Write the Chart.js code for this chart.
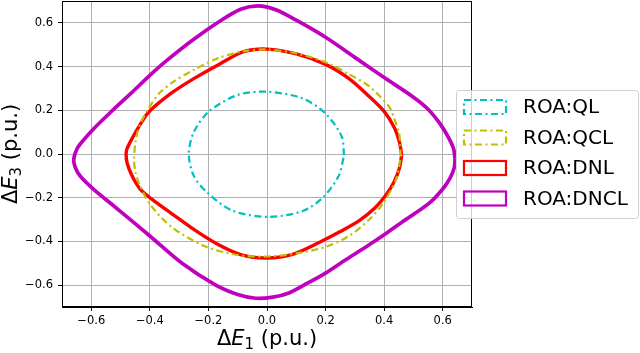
<!DOCTYPE html>
<html>
<head>
<meta charset="utf-8">
<script src="https://cdn.jsdelivr.net/npm/chart.js"></script>
<style>
  html, body { margin: 0; padding: 0; background: #fff; }
  #wrap { width: 640px; height: 353px; }
</style>
</head>
<body>
<div id="wrap"><canvas id="roaChart" width="640" height="353"></canvas></div>
<script>
// series names
const seriesNames = ['ROA:QL', 'ROA:QCL', 'ROA:DNL', 'ROA:DNCL'];

// ROA:QL boundary
const qlX = [0.263, 0.255, 0.2, 0.12, 0.0, -0.1, -0.198, -0.25, -0.267, -0.25, -0.205, -0.12, 0.0, 0.12, 0.19, 0.245, 0.263];
const qlY = [-0.005, 0.08, 0.185, 0.255, 0.285, 0.27, 0.195, 0.1, 0.0, -0.1, -0.175, -0.258, -0.288, -0.262, -0.2, -0.1, -0.005];

// ROA:QCL boundary
const qclX = [0.457, 0.455, 0.451, 0.435, 0.417, 0.349, 0.28, 0.2, 0.1, 0.0, -0.08, -0.164, -0.25, -0.32, -0.37, -0.408, -0.435, -0.448, -0.454, -0.448, -0.437, -0.402, -0.328, -0.21, -0.1, 0.0, 0.1, 0.2, 0.28, 0.349, 0.394, 0.44, 0.457];
const qclY = [-0.012, 0.04, 0.095, 0.16, 0.216, 0.31, 0.365, 0.42, 0.46, 0.478, 0.47, 0.44, 0.385, 0.33, 0.275, 0.2, 0.13, 0.064, -0.027, -0.09, -0.134, -0.225, -0.332, -0.423, -0.462, -0.469, -0.455, -0.425, -0.375, -0.3, -0.23, -0.119, -0.012];

// ROA:DNL boundary
const dnlX = [0.46, 0.453, 0.435, 0.4, 0.35, 0.28, 0.2, 0.1, 0.0, -0.08, -0.164, -0.25, -0.328, -0.405, -0.44, -0.465, -0.48, -0.48, -0.472, -0.455, -0.431, -0.38, -0.328, -0.25, -0.175, -0.09, 0.0, 0.09, 0.178, 0.25, 0.315, 0.37, 0.407, 0.435, 0.452, 0.46];
const dnlY = [-0.005, 0.05, 0.12, 0.195, 0.262, 0.345, 0.41, 0.458, 0.48, 0.468, 0.41, 0.345, 0.277, 0.19, 0.12, 0.06, 0.015, -0.025, -0.065, -0.115, -0.164, -0.22, -0.27, -0.345, -0.408, -0.46, -0.476, -0.458, -0.405, -0.355, -0.305, -0.245, -0.187, -0.125, -0.065, -0.005];

// ROA:DNCL boundary
const dncX = [0.642, 0.637, 0.62, 0.59, 0.55, 0.5, 0.4, 0.3, 0.2, 0.1, 0.03, -0.03, -0.09, -0.164, -0.25, -0.345, -0.4, -0.465, -0.53, -0.59, -0.625, -0.648, -0.66, -0.652, -0.636, -0.59, -0.53, -0.476, -0.4, -0.29, -0.175, -0.1, -0.039, 0.02, 0.075, 0.14, 0.2, 0.27, 0.349, 0.41, 0.463, 0.554, 0.6, 0.625, 0.64, 0.642];
const dncY = [-0.02, 0.025, 0.075, 0.14, 0.205, 0.26, 0.35, 0.442, 0.534, 0.612, 0.66, 0.678, 0.662, 0.605, 0.525, 0.425, 0.36, 0.277, 0.196, 0.118, 0.066, 0.025, -0.027, -0.07, -0.104, -0.164, -0.23, -0.29, -0.375, -0.5, -0.6, -0.643, -0.66, -0.655, -0.636, -0.59, -0.545, -0.483, -0.415, -0.36, -0.31, -0.225, -0.16, -0.11, -0.06, -0.02];

// tick labels
const xTickVals = [-0.6, -0.4, -0.2, 0.0, 0.2, 0.4, 0.6];
const xTickLabels = ['\u22120.6', '\u22120.4', '\u22120.2', '0.0', '0.2', '0.4', '0.6'];
const yTickVals = [-0.6, -0.4, -0.2, 0.0, 0.2, 0.4, 0.6];
const yTickLabels = ['\u22120.6', '\u22120.4', '\u22120.2', '0.0', '0.2', '0.4', '0.6'];

const FONT = "'DejaVu Sans', sans-serif";

function pts(xs, ys) {
  return xs.map((x, i) => ({ x: x, y: ys[i] }));
}

function tickLabel(vals, labels) {
  return function (value) {
    const i = vals.findIndex(v => Math.abs(v - value) < 1e-6);
    return i >= 0 ? labels[i] : '';
  };
}

// draws "ΔE_n (p.u.)" with italic E and a subscript
function drawAxisTitle(ctx, sub, cx, cy, rotate) {
  const parts = [
    { t: '\u0394', f: '21px ' + FONT, dy: 0 },
    { t: 'E', f: 'oblique 21px ' + FONT, dy: 0 },
    { t: sub, f: '15px ' + FONT, dy: 4 },
    { t: ' (p.u.)', f: '21px ' + FONT, dy: 0 }
  ];
  let total = 0;
  parts.forEach(p => { ctx.font = p.f; p.w = ctx.measureText(p.t).width; total += p.w; });
  ctx.save();
  ctx.translate(cx, cy);
  if (rotate) ctx.rotate(-Math.PI / 2);
  ctx.fillStyle = '#000';
  ctx.textBaseline = 'alphabetic';
  ctx.textAlign = 'left';
  let x = -total / 2;
  parts.forEach(p => {
    ctx.font = p.f;
    ctx.fillText(p.t, x, p.dy);
    x += p.w;
  });
  ctx.restore();
}

const extras = {
  id: 'extras',
  afterDraw(chart) {
    const ctx = chart.ctx;
    const a = chart.chartArea;
    // frame
    ctx.save();
    ctx.strokeStyle = '#000';
    ctx.lineWidth = 1;
    ctx.strokeRect(a.left + 0.5, a.top + 0.5, a.right - a.left - 1, a.bottom - a.top - 1);
    ctx.restore();

    drawAxisTitle(ctx, '1', (a.left + a.right) / 2, 345, false);
    drawAxisTitle(ctx, '3', 17, (a.top + a.bottom) / 2, true);

    // legend box
    const bx = 456, by = 90, bw = 182, bh = 128;
    ctx.save();
    ctx.beginPath();
    ctx.roundRect(bx + 0.5, by + 0.5, bw, bh, 3);
    ctx.fillStyle = 'rgba(255,255,255,0.8)';
    ctx.fill();
    ctx.strokeStyle = '#d0d0d0';
    ctx.lineWidth = 1;
    ctx.stroke();
    chart.data.datasets.forEach((ds, i) => {
      const cy = 107 + i * 30.5;
      ctx.strokeStyle = ds.borderColor;
      ctx.lineWidth = 2.2;
      ctx.setLineDash(ds.borderDash || []);
      ctx.strokeRect(464, cy - 7, 42, 14);
      ctx.setLineDash([]);
      ctx.fillStyle = '#000';
      ctx.font = '20px ' + FONT;
      ctx.textBaseline = 'middle';
      ctx.fillText(ds.label, 523, cy + 1);
    });
    ctx.restore();
  }
};

const dashDot = [7, 3.5, 2, 3.5];

new Chart(document.getElementById('roaChart'), {
  type: 'scatter',
  data: {
    datasets: [
      { label: seriesNames[0], data: pts(qlX, qlY), borderColor: '#00bfbf', borderWidth: 2.2, borderDash: dashDot },
      { label: seriesNames[1], data: pts(qclX, qclY), borderColor: '#bfbf00', borderWidth: 2.2, borderDash: dashDot },
      { label: seriesNames[2], data: pts(dnlX, dnlY), borderColor: '#ff0000', borderWidth: 3.4 },
      { label: seriesNames[3], data: pts(dncX, dncY), borderColor: '#bf00bf', borderWidth: 3.7 }
    ].map(d => Object.assign(d, { showLine: true, pointRadius: 0, fill: false, tension: 0.3 }))
  },
  options: {
    responsive: false,
    animation: false,
    layout: { padding: { left: 0, right: 168, top: 1, bottom: 0 } },
    plugins: { legend: { display: false }, tooltip: { enabled: false } },
    scales: {
      x: {
        type: 'linear', min: -0.7, max: 0.7,
        afterBuildTicks: s => { s.ticks = xTickVals.map(v => ({ value: v })); },
        afterFit: s => { s.height = 46; s.paddingLeft = 0; s.paddingRight = 0; },
        grid: { color: '#b0b0b0', lineWidth: 1, tickLength: 4, tickColor: '#000' },
        border: { color: '#000', width: 1 },
        ticks: { callback: tickLabel(xTickVals, xTickLabels), color: '#000', font: { family: FONT, size: 11.5 }, padding: 3, maxRotation: 0 }
      },
      y: {
        type: 'linear', min: -0.7, max: 0.7,
        afterBuildTicks: s => { s.ticks = yTickVals.map(v => ({ value: v })); },
        afterFit: s => { s.width = 62; s.paddingTop = 0; s.paddingBottom = 0; },
        grid: { color: '#b0b0b0', lineWidth: 1, tickLength: 4, tickColor: '#000' },
        border: { color: '#000', width: 1 },
        ticks: { callback: tickLabel(yTickVals, yTickLabels), color: '#000', font: { family: FONT, size: 11.5 }, padding: 5 }
      }
    }
  },
  plugins: [extras]
});
</script>
</body>
</html>
